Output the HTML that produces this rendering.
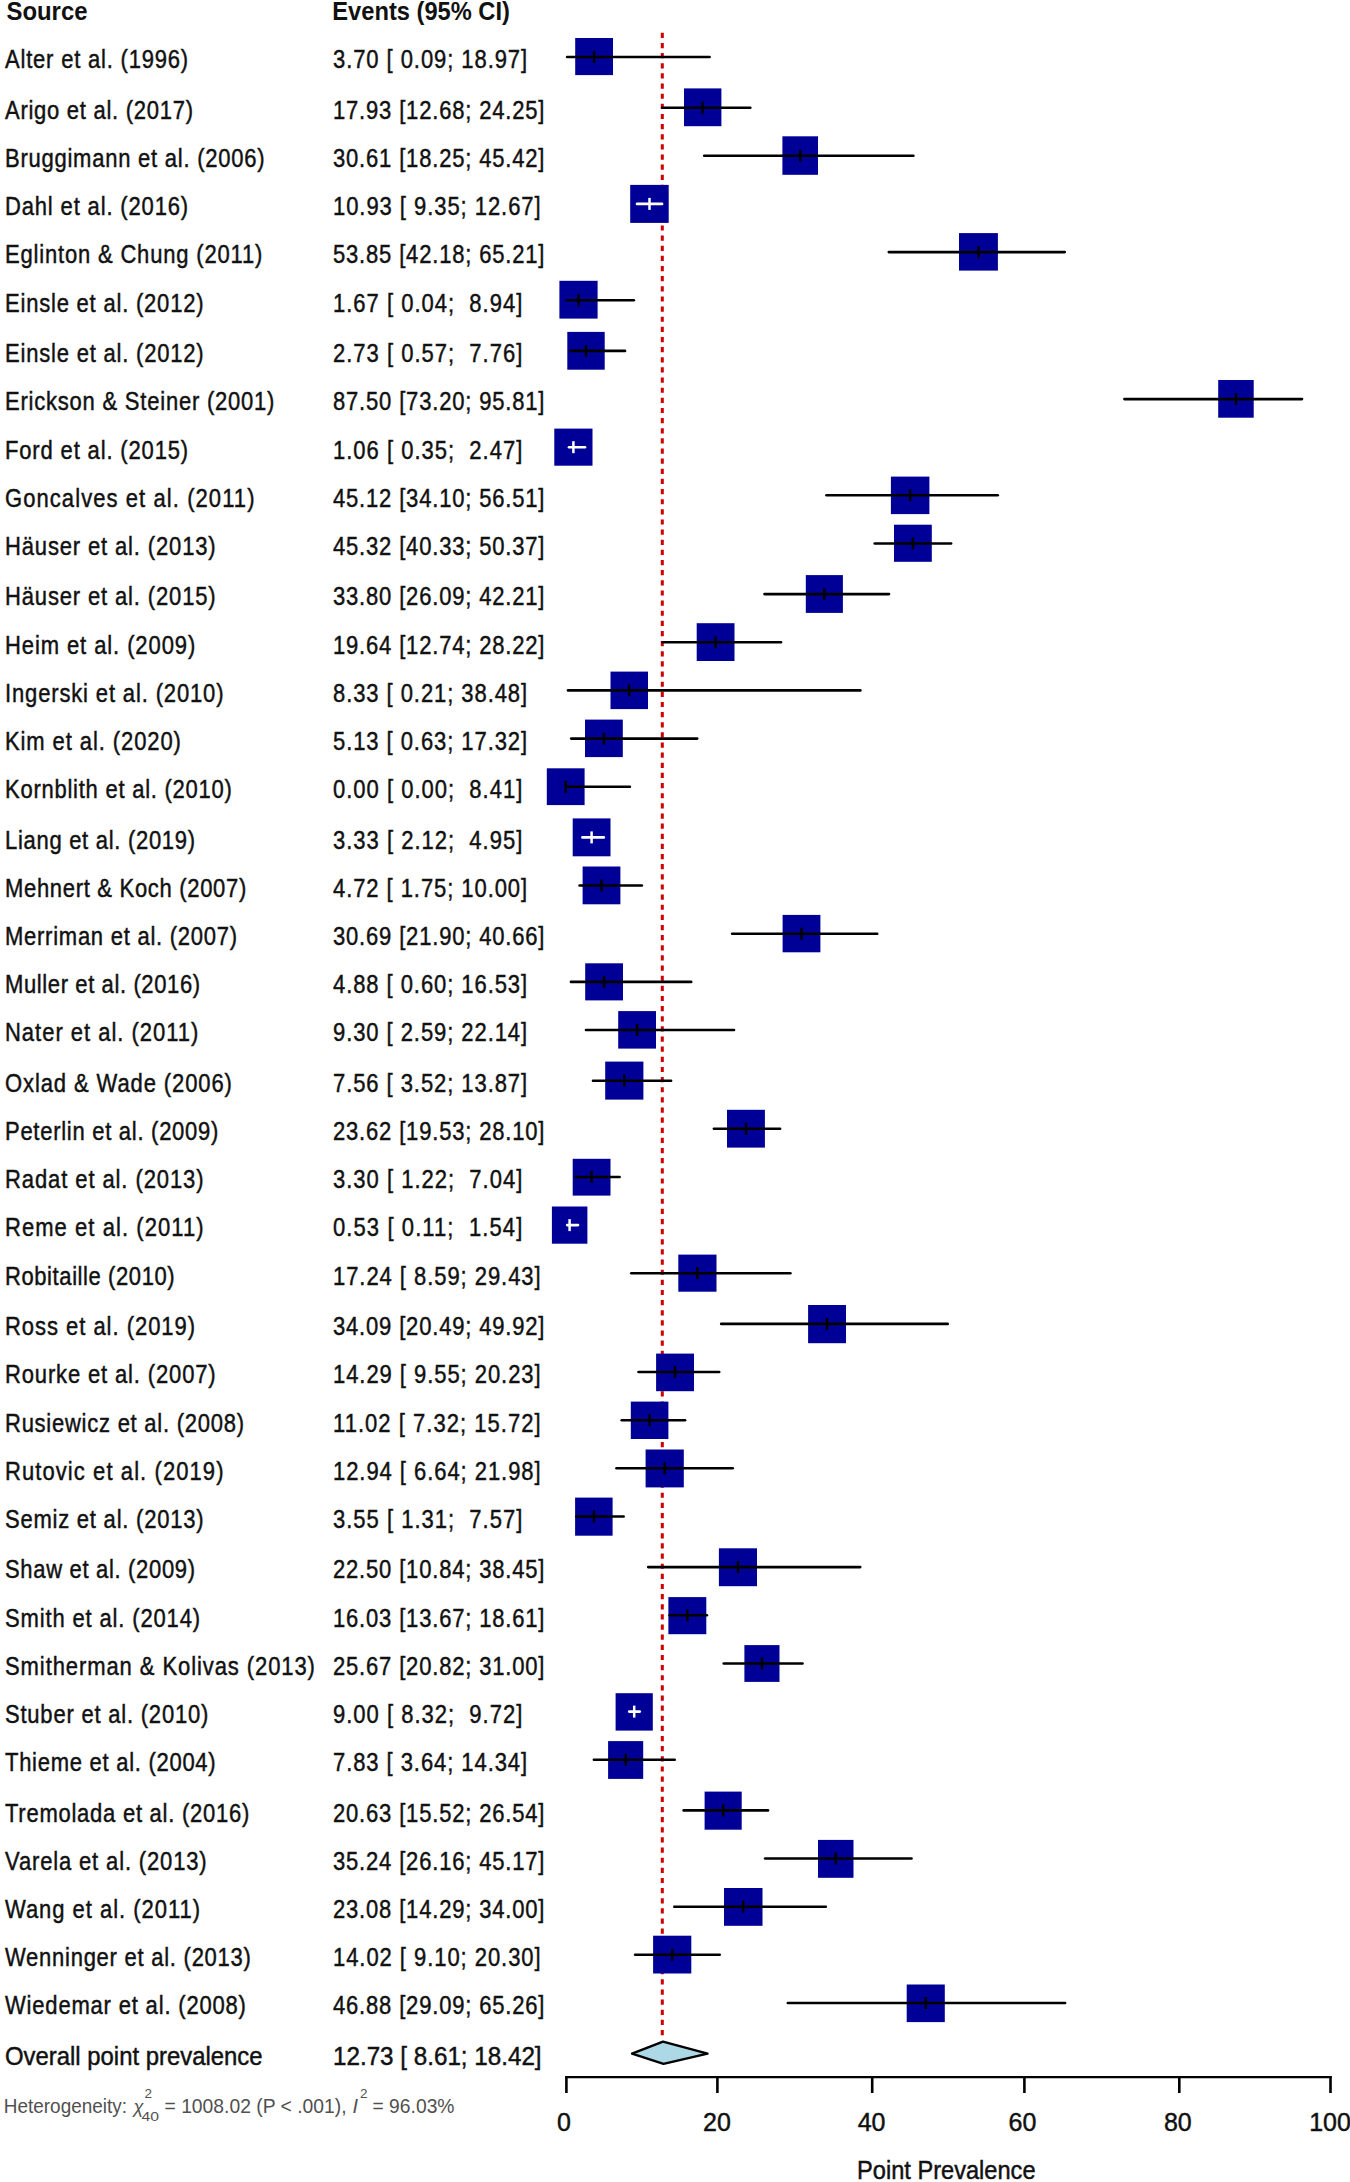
<!DOCTYPE html>
<html><head><meta charset="utf-8"><style>
html,body{margin:0;padding:0;background:#fff;}
body{width:1350px;height:2182px;overflow:hidden;}
svg{display:block;font-family:"Liberation Sans",sans-serif;font-size:25px;fill:#111;}
svg text{fill:#111;stroke:#111;stroke-width:0.45px;}
</style></head><body>
<svg width="1350" height="2182" viewBox="0 0 1350 2182">
<rect width="1350" height="2182" fill="#fff"/>
<text x="6.5" y="19.8" font-weight="bold" style="stroke:none" textLength="81" lengthAdjust="spacingAndGlyphs">Source</text>
<text x="332.3" y="19.8" font-weight="bold" style="stroke:none" textLength="177.6" lengthAdjust="spacingAndGlyphs">Events (95% CI)</text>
<line x1="662.3" y1="32.8" x2="662.3" y2="2035.6" stroke="#d00000" stroke-width="3" stroke-dasharray="5.2 4.938"/>
<text transform="translate(5 68.3) scale(0.88 1)" textLength="208.1" lengthAdjust="spacing">Alter et al. (1996)</text>
<text transform="translate(333 68.3) scale(0.88 1)" textLength="220.6" lengthAdjust="spacing" xml:space="preserve">3.70 [ 0.09; 18.97]</text>
<rect x="575.2" y="38.0" width="37.8" height="37.1" fill="#010096"/>
<line x1="567.1" y1="57.0" x2="709.6" y2="57.0" stroke="#000" stroke-width="2.6" stroke-linecap="round"/>
<line x1="594.1" y1="51.0" x2="594.1" y2="63.0" stroke="#000" stroke-width="2.5"/>
<text transform="translate(5 119.0) scale(0.88 1)" textLength="213.7" lengthAdjust="spacing">Arigo et al. (2017)</text>
<text transform="translate(333 119.0) scale(0.88 1)" textLength="240.3" lengthAdjust="spacing" xml:space="preserve">17.93 [12.68; 24.25]</text>
<rect x="684.0" y="88.4" width="37.4" height="37.8" fill="#010096"/>
<line x1="662.1" y1="107.7" x2="750.3" y2="107.7" stroke="#000" stroke-width="2.6" stroke-linecap="round"/>
<line x1="702.7" y1="101.7" x2="702.7" y2="113.7" stroke="#000" stroke-width="2.5"/>
<text transform="translate(5 167.1) scale(0.88 1)" textLength="294.9" lengthAdjust="spacing">Bruggimann et al. (2006)</text>
<text transform="translate(333 167.1) scale(0.88 1)" textLength="240.3" lengthAdjust="spacing" xml:space="preserve">30.61 [18.25; 45.42]</text>
<rect x="782.4" y="136.3" width="35.6" height="38.5" fill="#010096"/>
<line x1="704.2" y1="155.8" x2="913.4" y2="155.8" stroke="#000" stroke-width="2.6" stroke-linecap="round"/>
<line x1="800.2" y1="149.8" x2="800.2" y2="161.8" stroke="#000" stroke-width="2.5"/>
<text transform="translate(5 215.2) scale(0.88 1)" textLength="208.1" lengthAdjust="spacing">Dahl et al. (2016)</text>
<text transform="translate(333 215.2) scale(0.88 1)" textLength="236.0" lengthAdjust="spacing" xml:space="preserve">10.93 [ 9.35; 12.67]</text>
<rect x="630.2" y="184.9" width="38.5" height="38.0" fill="#010096"/>
<line x1="637.0" y1="203.9" x2="662.1" y2="203.9" stroke="#fff" stroke-width="2.6" stroke-linecap="round"/>
<line x1="649.5" y1="197.9" x2="649.5" y2="209.9" stroke="#fff" stroke-width="2.5"/>
<text transform="translate(5 263.4) scale(0.88 1)" textLength="292.4" lengthAdjust="spacing">Eglinton &amp; Chung (2011)</text>
<text transform="translate(333 263.4) scale(0.88 1)" textLength="240.3" lengthAdjust="spacing" xml:space="preserve">53.85 [42.18; 65.21]</text>
<rect x="959.0" y="233.1" width="38.9" height="37.5" fill="#010096"/>
<line x1="888.8" y1="252.1" x2="1064.8" y2="252.1" stroke="#000" stroke-width="2.6" stroke-linecap="round"/>
<line x1="978.5" y1="246.1" x2="978.5" y2="258.1" stroke="#000" stroke-width="2.5"/>
<text transform="translate(5 311.6) scale(0.88 1)" textLength="225.6" lengthAdjust="spacing">Einsle et al. (2012)</text>
<text transform="translate(333 311.6) scale(0.88 1)" textLength="215.1" lengthAdjust="spacing" xml:space="preserve">1.67 [ 0.04;  8.94]</text>
<rect x="559.4" y="280.8" width="38.2" height="37.8" fill="#010096"/>
<line x1="566.7" y1="300.2" x2="633.9" y2="300.2" stroke="#000" stroke-width="2.6" stroke-linecap="round"/>
<line x1="578.5" y1="294.2" x2="578.5" y2="306.2" stroke="#000" stroke-width="2.5"/>
<text transform="translate(5 362.2) scale(0.88 1)" textLength="225.8" lengthAdjust="spacing">Einsle et al. (2012)</text>
<text transform="translate(333 362.2) scale(0.88 1)" textLength="215.1" lengthAdjust="spacing" xml:space="preserve">2.73 [ 0.57;  7.76]</text>
<rect x="567.3" y="331.9" width="37.4" height="37.8" fill="#010096"/>
<line x1="570.7" y1="350.9" x2="625.0" y2="350.9" stroke="#000" stroke-width="2.6" stroke-linecap="round"/>
<line x1="586.0" y1="344.9" x2="586.0" y2="356.9" stroke="#000" stroke-width="2.5"/>
<text transform="translate(5 410.4) scale(0.88 1)" textLength="306.2" lengthAdjust="spacing">Erickson &amp; Steiner (2001)</text>
<text transform="translate(333 410.4) scale(0.88 1)" textLength="240.3" lengthAdjust="spacing" xml:space="preserve">87.50 [73.20; 95.81]</text>
<rect x="1218.2" y="380.0" width="35.5" height="37.7" fill="#010096"/>
<line x1="1124.4" y1="399.1" x2="1302.0" y2="399.1" stroke="#000" stroke-width="2.6" stroke-linecap="round"/>
<line x1="1236.0" y1="393.1" x2="1236.0" y2="405.1" stroke="#000" stroke-width="2.5"/>
<text transform="translate(5 458.5) scale(0.88 1)" textLength="208.1" lengthAdjust="spacing">Ford et al. (2015)</text>
<text transform="translate(333 458.5) scale(0.88 1)" textLength="215.1" lengthAdjust="spacing" xml:space="preserve">1.06 [ 0.35;  2.47]</text>
<rect x="554.3" y="428.6" width="38.2" height="37.1" fill="#010096"/>
<line x1="569.0" y1="447.2" x2="585.0" y2="447.2" stroke="#fff" stroke-width="2.6" stroke-linecap="round"/>
<line x1="573.4" y1="441.2" x2="573.4" y2="453.2" stroke="#fff" stroke-width="2.5"/>
<text transform="translate(5 506.6) scale(0.88 1)" textLength="283.5" lengthAdjust="spacing">Goncalves et al. (2011)</text>
<text transform="translate(333 506.6) scale(0.88 1)" textLength="240.3" lengthAdjust="spacing" xml:space="preserve">45.12 [34.10; 56.51]</text>
<rect x="890.9" y="476.6" width="38.5" height="37.5" fill="#010096"/>
<line x1="826.5" y1="495.3" x2="997.8" y2="495.3" stroke="#000" stroke-width="2.6" stroke-linecap="round"/>
<line x1="910.1" y1="489.3" x2="910.1" y2="501.3" stroke="#000" stroke-width="2.5"/>
<text transform="translate(5 554.8) scale(0.88 1)" textLength="239.4" lengthAdjust="spacing">Häuser et al. (2013)</text>
<text transform="translate(333 554.8) scale(0.88 1)" textLength="240.3" lengthAdjust="spacing" xml:space="preserve">45.32 [40.33; 50.37]</text>
<rect x="894.0" y="524.7" width="37.8" height="37.1" fill="#010096"/>
<line x1="874.7" y1="543.5" x2="951.1" y2="543.5" stroke="#000" stroke-width="2.6" stroke-linecap="round"/>
<line x1="912.9" y1="537.5" x2="912.9" y2="549.5" stroke="#000" stroke-width="2.5"/>
<text transform="translate(5 605.4) scale(0.88 1)" textLength="239.4" lengthAdjust="spacing">Häuser et al. (2015)</text>
<text transform="translate(333 605.4) scale(0.88 1)" textLength="240.3" lengthAdjust="spacing" xml:space="preserve">33.80 [26.09; 42.21]</text>
<rect x="805.8" y="575.1" width="37.1" height="37.8" fill="#010096"/>
<line x1="764.5" y1="594.1" x2="889.0" y2="594.1" stroke="#000" stroke-width="2.6" stroke-linecap="round"/>
<line x1="824.3" y1="588.1" x2="824.3" y2="600.1" stroke="#000" stroke-width="2.5"/>
<text transform="translate(5 653.6) scale(0.88 1)" textLength="216.2" lengthAdjust="spacing">Heim et al. (2009)</text>
<text transform="translate(333 653.6) scale(0.88 1)" textLength="240.3" lengthAdjust="spacing" xml:space="preserve">19.64 [12.74; 28.22]</text>
<rect x="696.7" y="623.2" width="37.8" height="37.8" fill="#010096"/>
<line x1="662.6" y1="642.3" x2="781.0" y2="642.3" stroke="#000" stroke-width="2.6" stroke-linecap="round"/>
<line x1="715.6" y1="636.3" x2="715.6" y2="648.3" stroke="#000" stroke-width="2.5"/>
<text transform="translate(5 701.7) scale(0.88 1)" textLength="248.3" lengthAdjust="spacing">Ingerski et al. (2010)</text>
<text transform="translate(333 701.7) scale(0.88 1)" textLength="220.6" lengthAdjust="spacing" xml:space="preserve">8.33 [ 0.21; 38.48]</text>
<rect x="610.5" y="671.6" width="37.5" height="37.5" fill="#010096"/>
<line x1="568.0" y1="690.4" x2="860.4" y2="690.4" stroke="#000" stroke-width="2.6" stroke-linecap="round"/>
<line x1="629.2" y1="684.4" x2="629.2" y2="696.4" stroke="#000" stroke-width="2.5"/>
<text transform="translate(5 749.9) scale(0.88 1)" textLength="199.9" lengthAdjust="spacing">Kim et al. (2020)</text>
<text transform="translate(333 749.9) scale(0.88 1)" textLength="220.6" lengthAdjust="spacing" xml:space="preserve">5.13 [ 0.63; 17.32]</text>
<rect x="585.0" y="719.6" width="37.8" height="37.5" fill="#010096"/>
<line x1="571.2" y1="738.6" x2="697.2" y2="738.6" stroke="#000" stroke-width="2.6" stroke-linecap="round"/>
<line x1="603.9" y1="732.6" x2="603.9" y2="744.6" stroke="#000" stroke-width="2.5"/>
<text transform="translate(5 798.0) scale(0.88 1)" textLength="257.8" lengthAdjust="spacing">Kornblith et al. (2010)</text>
<text transform="translate(333 798.0) scale(0.88 1)" textLength="215.1" lengthAdjust="spacing" xml:space="preserve">0.00 [ 0.00;  8.41]</text>
<rect x="546.8" y="768.3" width="37.8" height="36.8" fill="#010096"/>
<line x1="566.4" y1="786.8" x2="629.9" y2="786.8" stroke="#000" stroke-width="2.6" stroke-linecap="round"/>
<line x1="565.7" y1="780.8" x2="565.7" y2="792.8" stroke="#000" stroke-width="2.5"/>
<text transform="translate(5 848.7) scale(0.88 1)" textLength="216.0" lengthAdjust="spacing">Liang et al. (2019)</text>
<text transform="translate(333 848.7) scale(0.88 1)" textLength="215.1" lengthAdjust="spacing" xml:space="preserve">3.33 [ 2.12;  4.95]</text>
<rect x="572.7" y="818.4" width="37.8" height="37.9" fill="#010096"/>
<line x1="582.4" y1="837.4" x2="603.8" y2="837.4" stroke="#fff" stroke-width="2.6" stroke-linecap="round"/>
<line x1="591.6" y1="831.4" x2="591.6" y2="843.4" stroke="#fff" stroke-width="2.5"/>
<text transform="translate(5 896.8) scale(0.88 1)" textLength="274.2" lengthAdjust="spacing">Mehnert &amp; Koch (2007)</text>
<text transform="translate(333 896.8) scale(0.88 1)" textLength="220.6" lengthAdjust="spacing" xml:space="preserve">4.72 [ 1.75; 10.00]</text>
<rect x="582.6" y="866.5" width="37.8" height="37.8" fill="#010096"/>
<line x1="579.6" y1="885.5" x2="641.9" y2="885.5" stroke="#000" stroke-width="2.6" stroke-linecap="round"/>
<line x1="601.5" y1="879.5" x2="601.5" y2="891.5" stroke="#000" stroke-width="2.5"/>
<text transform="translate(5 945.0) scale(0.88 1)" textLength="263.7" lengthAdjust="spacing">Merriman et al. (2007)</text>
<text transform="translate(333 945.0) scale(0.88 1)" textLength="240.3" lengthAdjust="spacing" xml:space="preserve">30.69 [21.90; 40.66]</text>
<rect x="782.6" y="914.9" width="37.8" height="37.4" fill="#010096"/>
<line x1="732.1" y1="933.7" x2="877.2" y2="933.7" stroke="#000" stroke-width="2.6" stroke-linecap="round"/>
<line x1="801.5" y1="927.7" x2="801.5" y2="939.7" stroke="#000" stroke-width="2.5"/>
<text transform="translate(5 993.1) scale(0.88 1)" textLength="221.7" lengthAdjust="spacing">Muller et al. (2016)</text>
<text transform="translate(333 993.1) scale(0.88 1)" textLength="220.6" lengthAdjust="spacing" xml:space="preserve">4.88 [ 0.60; 16.53]</text>
<rect x="585.2" y="963.3" width="37.8" height="37.1" fill="#010096"/>
<line x1="570.9" y1="981.9" x2="691.2" y2="981.9" stroke="#000" stroke-width="2.6" stroke-linecap="round"/>
<line x1="604.1" y1="975.9" x2="604.1" y2="987.9" stroke="#000" stroke-width="2.5"/>
<text transform="translate(5 1041.3) scale(0.88 1)" textLength="219.7" lengthAdjust="spacing">Nater et al. (2011)</text>
<text transform="translate(333 1041.3) scale(0.88 1)" textLength="220.6" lengthAdjust="spacing" xml:space="preserve">9.30 [ 2.59; 22.14]</text>
<rect x="618.2" y="1011.1" width="37.8" height="37.5" fill="#010096"/>
<line x1="586.0" y1="1030.0" x2="734.0" y2="1030.0" stroke="#000" stroke-width="2.6" stroke-linecap="round"/>
<line x1="637.1" y1="1024.0" x2="637.1" y2="1036.0" stroke="#000" stroke-width="2.5"/>
<text transform="translate(5 1092.0) scale(0.88 1)" textLength="257.8" lengthAdjust="spacing">Oxlad &amp; Wade (2006)</text>
<text transform="translate(333 1092.0) scale(0.88 1)" textLength="220.6" lengthAdjust="spacing" xml:space="preserve">7.56 [ 3.52; 13.87]</text>
<rect x="605.2" y="1061.6" width="38.2" height="38.0" fill="#010096"/>
<line x1="593.0" y1="1080.7" x2="671.1" y2="1080.7" stroke="#000" stroke-width="2.6" stroke-linecap="round"/>
<line x1="624.3" y1="1074.7" x2="624.3" y2="1086.7" stroke="#000" stroke-width="2.5"/>
<text transform="translate(5 1140.1) scale(0.88 1)" textLength="242.4" lengthAdjust="spacing">Peterlin et al. (2009)</text>
<text transform="translate(333 1140.1) scale(0.88 1)" textLength="240.3" lengthAdjust="spacing" xml:space="preserve">23.62 [19.53; 28.10]</text>
<rect x="727.0" y="1109.8" width="37.9" height="37.8" fill="#010096"/>
<line x1="713.9" y1="1128.8" x2="780.1" y2="1128.8" stroke="#000" stroke-width="2.6" stroke-linecap="round"/>
<line x1="746.0" y1="1122.8" x2="746.0" y2="1134.8" stroke="#000" stroke-width="2.5"/>
<text transform="translate(5 1188.2) scale(0.88 1)" textLength="225.6" lengthAdjust="spacing">Radat et al. (2013)</text>
<text transform="translate(333 1188.2) scale(0.88 1)" textLength="215.1" lengthAdjust="spacing" xml:space="preserve">3.30 [ 1.22;  7.04]</text>
<rect x="572.7" y="1158.8" width="37.8" height="36.8" fill="#010096"/>
<line x1="575.6" y1="1177.0" x2="619.6" y2="1177.0" stroke="#000" stroke-width="2.6" stroke-linecap="round"/>
<line x1="591.6" y1="1171.0" x2="591.6" y2="1183.0" stroke="#000" stroke-width="2.5"/>
<text transform="translate(5 1236.4) scale(0.88 1)" textLength="225.6" lengthAdjust="spacing">Reme et al. (2011)</text>
<text transform="translate(333 1236.4) scale(0.88 1)" textLength="215.1" lengthAdjust="spacing" xml:space="preserve">0.53 [ 0.11;  1.54]</text>
<rect x="551.9" y="1206.5" width="35.5" height="37.2" fill="#010096"/>
<line x1="567.2" y1="1225.1" x2="578.0" y2="1225.1" stroke="#fff" stroke-width="2.6" stroke-linecap="round"/>
<line x1="569.6" y1="1219.1" x2="569.6" y2="1231.1" stroke="#fff" stroke-width="2.5"/>
<text transform="translate(5 1284.5) scale(0.88 1)" textLength="192.8" lengthAdjust="spacing">Robitaille (2010)</text>
<text transform="translate(333 1284.5) scale(0.88 1)" textLength="236.0" lengthAdjust="spacing" xml:space="preserve">17.24 [ 8.59; 29.43]</text>
<rect x="678.3" y="1254.6" width="38.2" height="37.1" fill="#010096"/>
<line x1="631.3" y1="1273.2" x2="790.4" y2="1273.2" stroke="#000" stroke-width="2.6" stroke-linecap="round"/>
<line x1="697.4" y1="1267.2" x2="697.4" y2="1279.2" stroke="#000" stroke-width="2.5"/>
<text transform="translate(5 1335.2) scale(0.88 1)" textLength="216.0" lengthAdjust="spacing">Ross et al. (2019)</text>
<text transform="translate(333 1335.2) scale(0.88 1)" textLength="240.3" lengthAdjust="spacing" xml:space="preserve">34.09 [20.49; 49.92]</text>
<rect x="808.1" y="1305.0" width="37.9" height="38.2" fill="#010096"/>
<line x1="721.2" y1="1323.9" x2="947.7" y2="1323.9" stroke="#000" stroke-width="2.6" stroke-linecap="round"/>
<line x1="827.0" y1="1317.9" x2="827.0" y2="1329.9" stroke="#000" stroke-width="2.5"/>
<text transform="translate(5 1383.3) scale(0.88 1)" textLength="239.4" lengthAdjust="spacing">Rourke et al. (2007)</text>
<text transform="translate(333 1383.3) scale(0.88 1)" textLength="236.0" lengthAdjust="spacing" xml:space="preserve">14.29 [ 9.55; 20.23]</text>
<rect x="656.1" y="1353.6" width="37.9" height="37.6" fill="#010096"/>
<line x1="638.5" y1="1372.0" x2="719.2" y2="1372.0" stroke="#000" stroke-width="2.6" stroke-linecap="round"/>
<line x1="675.0" y1="1366.0" x2="675.0" y2="1378.0" stroke="#000" stroke-width="2.5"/>
<text transform="translate(5 1431.5) scale(0.88 1)" textLength="271.7" lengthAdjust="spacing">Rusiewicz et al. (2008)</text>
<text transform="translate(333 1431.5) scale(0.88 1)" textLength="236.0" lengthAdjust="spacing" xml:space="preserve">11.02 [ 7.32; 15.72]</text>
<rect x="630.8" y="1401.6" width="37.6" height="37.4" fill="#010096"/>
<line x1="621.7" y1="1420.2" x2="685.1" y2="1420.2" stroke="#000" stroke-width="2.6" stroke-linecap="round"/>
<line x1="649.6" y1="1414.2" x2="649.6" y2="1426.2" stroke="#000" stroke-width="2.5"/>
<text transform="translate(5 1479.6) scale(0.88 1)" textLength="248.3" lengthAdjust="spacing">Rutovic et al. (2019)</text>
<text transform="translate(333 1479.6) scale(0.88 1)" textLength="236.0" lengthAdjust="spacing" xml:space="preserve">12.94 [ 6.64; 21.98]</text>
<rect x="645.6" y="1449.5" width="38.2" height="37.9" fill="#010096"/>
<line x1="616.5" y1="1468.3" x2="732.7" y2="1468.3" stroke="#000" stroke-width="2.6" stroke-linecap="round"/>
<line x1="664.7" y1="1462.3" x2="664.7" y2="1474.3" stroke="#000" stroke-width="2.5"/>
<text transform="translate(5 1527.8) scale(0.88 1)" textLength="225.6" lengthAdjust="spacing">Semiz et al. (2013)</text>
<text transform="translate(333 1527.8) scale(0.88 1)" textLength="215.1" lengthAdjust="spacing" xml:space="preserve">3.55 [ 1.31;  7.57]</text>
<rect x="575.1" y="1497.6" width="37.5" height="38.1" fill="#010096"/>
<line x1="576.3" y1="1516.5" x2="623.6" y2="1516.5" stroke="#000" stroke-width="2.6" stroke-linecap="round"/>
<line x1="593.9" y1="1510.5" x2="593.9" y2="1522.5" stroke="#000" stroke-width="2.5"/>
<text transform="translate(5 1578.4) scale(0.88 1)" textLength="216.0" lengthAdjust="spacing">Shaw et al. (2009)</text>
<text transform="translate(333 1578.4) scale(0.88 1)" textLength="240.3" lengthAdjust="spacing" xml:space="preserve">22.50 [10.84; 38.45]</text>
<rect x="718.9" y="1548.3" width="38.1" height="37.9" fill="#010096"/>
<line x1="648.2" y1="1567.1" x2="860.2" y2="1567.1" stroke="#000" stroke-width="2.6" stroke-linecap="round"/>
<line x1="738.0" y1="1561.1" x2="738.0" y2="1573.1" stroke="#000" stroke-width="2.5"/>
<text transform="translate(5 1626.6) scale(0.88 1)" textLength="221.7" lengthAdjust="spacing">Smith et al. (2014)</text>
<text transform="translate(333 1626.6) scale(0.88 1)" textLength="240.3" lengthAdjust="spacing" xml:space="preserve">16.03 [13.67; 18.61]</text>
<rect x="668.4" y="1597.1" width="37.9" height="37.1" fill="#010096"/>
<line x1="669.6" y1="1615.3" x2="706.9" y2="1615.3" stroke="#000" stroke-width="2.6" stroke-linecap="round"/>
<line x1="687.3" y1="1609.3" x2="687.3" y2="1621.3" stroke="#000" stroke-width="2.5"/>
<text transform="translate(5 1674.8) scale(0.88 1)" textLength="352.2" lengthAdjust="spacing">Smitherman &amp; Kolivas (2013)</text>
<text transform="translate(333 1674.8) scale(0.88 1)" textLength="240.3" lengthAdjust="spacing" xml:space="preserve">25.67 [20.82; 31.00]</text>
<rect x="744.4" y="1645.1" width="35.1" height="36.8" fill="#010096"/>
<line x1="723.7" y1="1663.5" x2="802.5" y2="1663.5" stroke="#000" stroke-width="2.6" stroke-linecap="round"/>
<line x1="762.0" y1="1657.5" x2="762.0" y2="1669.5" stroke="#000" stroke-width="2.5"/>
<text transform="translate(5 1722.9) scale(0.88 1)" textLength="231.0" lengthAdjust="spacing">Stuber et al. (2010)</text>
<text transform="translate(333 1722.9) scale(0.88 1)" textLength="215.1" lengthAdjust="spacing" xml:space="preserve">9.00 [ 8.32;  9.72]</text>
<rect x="615.6" y="1693.2" width="37.2" height="37.4" fill="#010096"/>
<line x1="629.2" y1="1711.6" x2="639.8" y2="1711.6" stroke="#fff" stroke-width="2.6" stroke-linecap="round"/>
<line x1="634.2" y1="1705.6" x2="634.2" y2="1717.6" stroke="#fff" stroke-width="2.5"/>
<text transform="translate(5 1771.0) scale(0.88 1)" textLength="239.4" lengthAdjust="spacing">Thieme et al. (2004)</text>
<text transform="translate(333 1771.0) scale(0.88 1)" textLength="220.6" lengthAdjust="spacing" xml:space="preserve">7.83 [ 3.64; 14.34]</text>
<rect x="608.1" y="1741.1" width="35.1" height="37.8" fill="#010096"/>
<line x1="593.9" y1="1759.8" x2="674.7" y2="1759.8" stroke="#000" stroke-width="2.6" stroke-linecap="round"/>
<line x1="625.7" y1="1753.8" x2="625.7" y2="1765.8" stroke="#000" stroke-width="2.5"/>
<text transform="translate(5 1821.7) scale(0.88 1)" textLength="277.6" lengthAdjust="spacing">Tremolada et al. (2016)</text>
<text transform="translate(333 1821.7) scale(0.88 1)" textLength="240.3" lengthAdjust="spacing" xml:space="preserve">20.63 [15.52; 26.54]</text>
<rect x="704.6" y="1791.6" width="37.1" height="38.1" fill="#010096"/>
<line x1="683.6" y1="1810.4" x2="768.0" y2="1810.4" stroke="#000" stroke-width="2.6" stroke-linecap="round"/>
<line x1="723.2" y1="1804.4" x2="723.2" y2="1816.4" stroke="#000" stroke-width="2.5"/>
<text transform="translate(5 1869.8) scale(0.88 1)" textLength="229.2" lengthAdjust="spacing">Varela et al. (2013)</text>
<text transform="translate(333 1869.8) scale(0.88 1)" textLength="240.3" lengthAdjust="spacing" xml:space="preserve">35.24 [26.16; 45.17]</text>
<rect x="818.0" y="1839.9" width="35.5" height="37.9" fill="#010096"/>
<line x1="765.1" y1="1858.5" x2="911.5" y2="1858.5" stroke="#000" stroke-width="2.6" stroke-linecap="round"/>
<line x1="835.8" y1="1852.5" x2="835.8" y2="1864.5" stroke="#000" stroke-width="2.5"/>
<text transform="translate(5 1918.0) scale(0.88 1)" textLength="221.7" lengthAdjust="spacing">Wang et al. (2011)</text>
<text transform="translate(333 1918.0) scale(0.88 1)" textLength="240.3" lengthAdjust="spacing" xml:space="preserve">23.08 [14.29; 34.00]</text>
<rect x="724.0" y="1888.0" width="38.5" height="37.8" fill="#010096"/>
<line x1="674.3" y1="1906.7" x2="825.8" y2="1906.7" stroke="#000" stroke-width="2.6" stroke-linecap="round"/>
<line x1="743.2" y1="1900.7" x2="743.2" y2="1912.7" stroke="#000" stroke-width="2.5"/>
<text transform="translate(5 1966.1) scale(0.88 1)" textLength="279.4" lengthAdjust="spacing">Wenninger et al. (2013)</text>
<text transform="translate(333 1966.1) scale(0.88 1)" textLength="236.0" lengthAdjust="spacing" xml:space="preserve">14.02 [ 9.10; 20.30]</text>
<rect x="653.1" y="1935.7" width="38.2" height="37.8" fill="#010096"/>
<line x1="635.1" y1="1954.8" x2="719.7" y2="1954.8" stroke="#000" stroke-width="2.6" stroke-linecap="round"/>
<line x1="672.2" y1="1948.8" x2="672.2" y2="1960.8" stroke="#000" stroke-width="2.5"/>
<text transform="translate(5 2014.3) scale(0.88 1)" textLength="273.8" lengthAdjust="spacing">Wiedemar et al. (2008)</text>
<text transform="translate(333 2014.3) scale(0.88 1)" textLength="240.3" lengthAdjust="spacing" xml:space="preserve">46.88 [29.09; 65.26]</text>
<rect x="906.7" y="1984.5" width="38.1" height="37.6" fill="#010096"/>
<line x1="787.8" y1="2003.0" x2="1065.1" y2="2003.0" stroke="#000" stroke-width="2.6" stroke-linecap="round"/>
<line x1="925.8" y1="1997.0" x2="925.8" y2="2009.0" stroke="#000" stroke-width="2.5"/>
<text x="5" y="2065.3" textLength="257.5" lengthAdjust="spacingAndGlyphs">Overall point prevalence</text>
<text x="333" y="2065.3" textLength="208.6" lengthAdjust="spacingAndGlyphs" xml:space="preserve">12.73 [ 8.61; 18.42]</text>
<polygon points="632,2053.6 663,2041.6 707.6,2053.6 663.5,2063.8" fill="#ADD8E6" stroke="#000" stroke-width="2.3" stroke-linejoin="round"/>
<line x1="565.3" y1="2077.1" x2="1331.6" y2="2077.1" stroke="#000" stroke-width="2.2"/>
<line x1="566.4" y1="2076" x2="566.4" y2="2093" stroke="#000" stroke-width="2.6"/>
<text x="564.0" y="2131" text-anchor="middle">0</text>
<line x1="717.4" y1="2076" x2="717.4" y2="2093" stroke="#000" stroke-width="2.6"/>
<text x="717.0" y="2131" text-anchor="middle">20</text>
<line x1="872.2" y1="2076" x2="872.2" y2="2093" stroke="#000" stroke-width="2.6"/>
<text x="871.6" y="2131" text-anchor="middle">40</text>
<line x1="1024.4" y1="2076" x2="1024.4" y2="2093" stroke="#000" stroke-width="2.6"/>
<text x="1022.5" y="2131" text-anchor="middle">60</text>
<line x1="1179.3" y1="2076" x2="1179.3" y2="2093" stroke="#000" stroke-width="2.6"/>
<text x="1177.8" y="2131" text-anchor="middle">80</text>
<line x1="1330.5" y1="2076" x2="1330.5" y2="2093" stroke="#000" stroke-width="2.6"/>
<text x="1330.0" y="2131" text-anchor="middle">100</text>
<text x="946.3" y="2179" text-anchor="middle" textLength="178.5" lengthAdjust="spacingAndGlyphs">Point Prevalence</text>
<g fill="#505050" style="fill:#505050"><text x="3.8" y="2113" font-size="20.3" textLength="123.2" lengthAdjust="spacingAndGlyphs" style="fill:inherit;stroke:none">Heterogeneity:</text><text x="133.5" y="2113" font-size="19" font-style="italic" textLength="10" lengthAdjust="spacingAndGlyphs" style="fill:inherit;stroke:none">&#967;</text><text x="144.5" y="2097.5" font-size="12.5" textLength="7.5" lengthAdjust="spacingAndGlyphs" style="fill:inherit;stroke:none">2</text><text x="141.5" y="2120.5" font-size="12.5" textLength="17.5" lengthAdjust="spacingAndGlyphs" style="fill:inherit;stroke:none">40</text><text x="164.5" y="2113" font-size="20.3" textLength="182" lengthAdjust="spacingAndGlyphs" style="fill:inherit;stroke:none">= 1008.02 (P &lt; .001),</text><text x="352.5" y="2113" font-size="20.3" font-style="italic" textLength="5.5" lengthAdjust="spacingAndGlyphs" style="fill:inherit;stroke:none">I</text><text x="360" y="2097.5" font-size="12.5" textLength="7.5" lengthAdjust="spacingAndGlyphs" style="fill:inherit;stroke:none">2</text><text x="372.5" y="2113" font-size="20.3" textLength="82" lengthAdjust="spacingAndGlyphs" style="fill:inherit;stroke:none">= 96.03%</text></g>
</svg>
</body></html>
